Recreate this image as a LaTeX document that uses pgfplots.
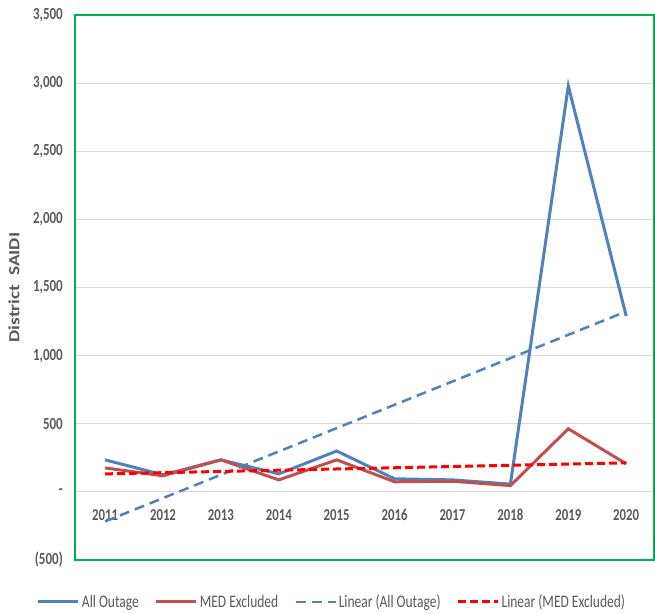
\documentclass[border=0pt]{standalone}
\usepackage{fontspec}
\setmainfont{Carlito}
\usepackage{pgfplots}
\pgfplotsset{compat=1.18}
\definecolor{allout}{HTML}{4F81BD}
\definecolor{medex}{HTML}{C0504D}
\definecolor{framegreen}{HTML}{00B050}
\definecolor{txtgray}{HTML}{595959}
\newcommand\tl[1]{\scalebox{1}[1.3]{#1}}
\begin{document}
\begin{tikzpicture}
\begin{axis}[
  name=ax,
  width=579bp, height=545bp, scale only axis,
  xmin=2010.48, xmax=2020.48,
  ymin=-500, ymax=3500,
  xtick={2011,...,2020},
  xticklabels={\tl{2011},\tl{2012},\tl{2013},\tl{2014},\tl{2015},\tl{2016},\tl{2017},\tl{2018},\tl{2019},\tl{2020}},
  ytick={-500,0,500,1000,1500,2000,2500,3000,3500},
  yticklabels={\tl{(500)},\tl{-},\tl{500},\tl{1,000},\tl{1,500},\tl{2,000},\tl{2,500},\tl{3,000},\tl{3,500}},
  major tick length=0pt,
  xticklabel style={font=\fontsize{12.8bp}{14bp}\selectfont\bfseries, text=txtgray, anchor=center, inner sep=0pt, yshift=45bp},
  yticklabel style={font=\fontsize{13bp}{16bp}\selectfont\bfseries, text=txtgray, inner sep=0pt, xshift=-12bp},
  ylabel={\scalebox{1.25}[1]{District\ \ SAIDI}},
  ylabel style={font=\fontsize{15.5bp}{18bp}\selectfont\bfseries, text=txtgray,
    at={(axis description cs:0,0.5)}, anchor=center, yshift=61bp},
  ymajorgrids,
  grid style={draw=black!15, line width=1bp},
  axis line style={draw=framegreen, line width=1.2bp},
  legend columns=4,
  legend style={at={(axis description cs:-0.066,-0.077)}, anchor=west, draw=none, fill=none,
    inner xsep=0pt, inner ysep=0pt,
    font=\fontsize{13.5bp}{16bp}\selectfont, text=txtgray,
    /tikz/every even column/.append style={column sep=14bp}},
  legend image code/.code={\draw[#1] (0bp,0bp) -- (40bp,0bp);},
]
\addplot[allout, line width=3bp] coordinates {
(2011,235) (2012,125) (2013,235) (2014,132) (2015,300)
(2016,96) (2017,88) (2018,57) (2019,2980) (2020,1290)};
\addlegendentry{\tl{All Outage}}
\addplot[medex, line width=3bp] coordinates {
(2011,176) (2012,118) (2013,235) (2014,88) (2015,235)
(2016,74) (2017,78) (2018,46) (2019,463) (2020,206)};
\addlegendentry{\tl{MED Excluded}}
\addplot[allout, line width=2.5bp, dash pattern=on 10bp off 6bp] coordinates {
(2011,-217) (2020,1324)};
\addlegendentry{\tl{Linear (All Outage)}}
\addplot[red, line width=3bp, dash pattern=on 8bp off 4bp] coordinates {
(2011,132) (2020,213)};
\addlegendentry{\tl{Linear (MED Excluded)}}
\end{axis}
\path (ax.south west) ++(-75bp,-54bp) (ax.north east) ++(1bp,15bp);
\end{tikzpicture}
\end{document}
